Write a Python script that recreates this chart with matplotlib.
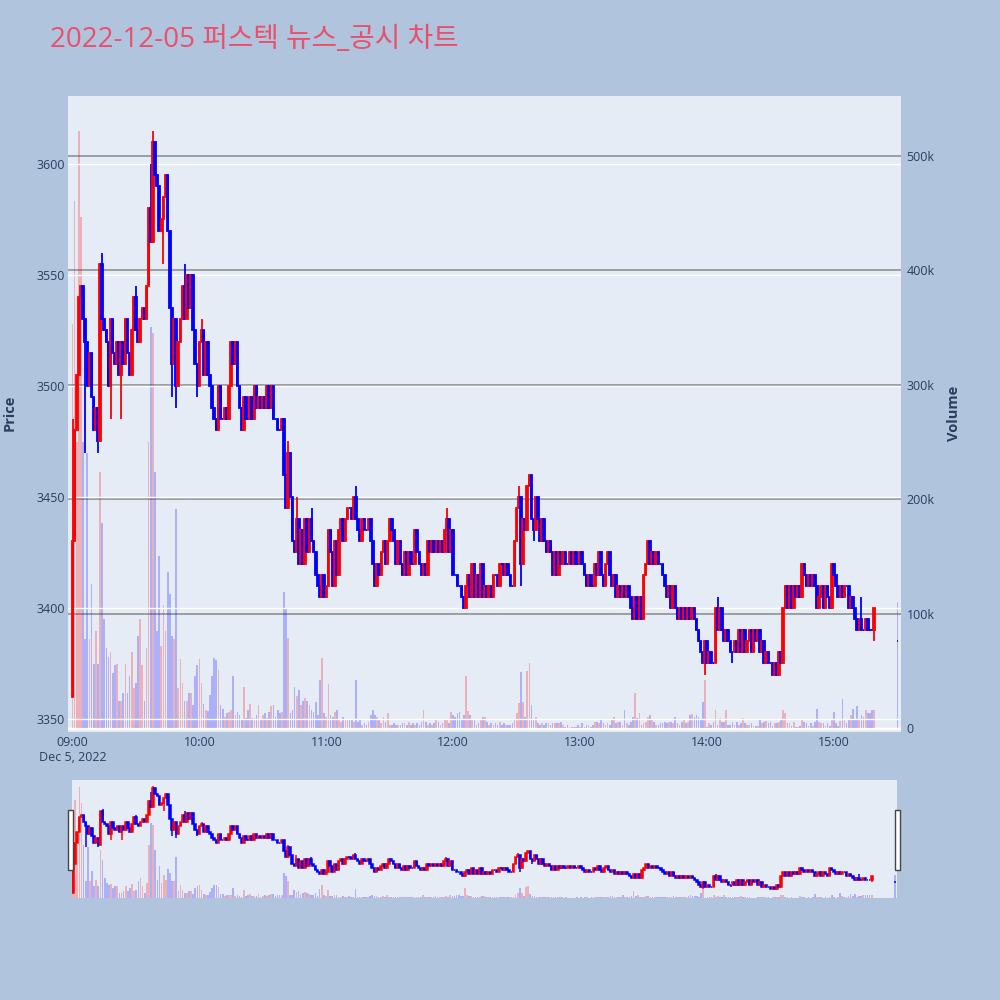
import numpy as np
import pandas as pd
import matplotlib
matplotlib.use('Agg')
import matplotlib.pyplot as plt
import matplotlib.dates as mdates
from matplotlib.patches import Rectangle

plt.rcParams['font.family'] = ['Open Sans', 'Noto Sans CJK KR', 'DejaVu Sans']

title = '2022-12-05 퍼스텍 뉴스_공시 차트'

# 1-minute closes from 09:00 (open of the first candle is first_open)
first_open = 3360
closes = [
    3430, 3480, 3505, 3540, 3545, 3530, 3520, 3500, 3515, 3495,
    3480, 3490, 3475, 3555, 3530, 3525, 3520, 3500, 3530, 3515,
    3510, 3520, 3505, 3520, 3510, 3530, 3515, 3505, 3525, 3540,
    3525, 3520, 3530, 3535, 3530, 3545, 3580, 3565, 3610, 3595,
    3590, 3570, 3575, 3585, 3595, 3570, 3535, 3510, 3530, 3500,
    3520, 3530, 3545, 3530, 3550, 3535, 3550, 3525, 3510, 3500,
    3520, 3525, 3505, 3520, 3505, 3500, 3490, 3485, 3480, 3500,
    3485, 3485, 3490, 3485, 3500, 3520, 3510, 3520, 3500, 3490,
    3480, 3495, 3485, 3485, 3495, 3485, 3500, 3490, 3495, 3490,
    3495, 3490, 3500, 3490, 3500, 3485, 3485, 3480, 3480, 3485,
    3460, 3445, 3470, 3450, 3430, 3425, 3440, 3420, 3435, 3420,
    3440, 3425, 3440, 3430, 3425, 3415, 3410, 3405, 3415, 3405,
    3410, 3435, 3425, 3410, 3430, 3415, 3435, 3440, 3430, 3440,
    3445, 3445, 3440, 3450, 3440, 3435, 3430, 3440, 3435, 3435,
    3440, 3430, 3420, 3410, 3420, 3415, 3425, 3430, 3420, 3430,
    3440, 3435, 3430, 3420, 3430, 3420, 3415, 3425, 3415, 3425,
    3420, 3420, 3435, 3425, 3420, 3415, 3420, 3415, 3430, 3425,
    3430, 3425, 3430, 3425, 3430, 3425, 3435, 3440, 3425, 3435,
    3415, 3415, 3410, 3410, 3405, 3400, 3410, 3415, 3405, 3420,
    3405, 3415, 3405, 3420, 3405, 3410, 3405, 3410, 3405, 3415,
    3415, 3410, 3420, 3420, 3415, 3420, 3415, 3410, 3410, 3430,
    3445, 3450, 3420, 3440, 3435, 3455, 3460, 3440, 3435, 3450,
    3440, 3430, 3440, 3430, 3425, 3430, 3425, 3415, 3425, 3415,
    3425, 3420, 3425, 3420, 3420, 3425, 3420, 3425, 3420, 3420,
    3425, 3420, 3415, 3410, 3415, 3410, 3410, 3420, 3415, 3425,
    3415, 3410, 3420, 3425, 3415, 3410, 3415, 3405, 3410, 3405,
    3410, 3405, 3410, 3405, 3400, 3395, 3405, 3395, 3405, 3395,
    3415, 3420, 3430, 3420, 3425, 3420, 3425, 3420, 3420, 3415,
    3410, 3405, 3410, 3400, 3410, 3400, 3395, 3400, 3395, 3400,
    3395, 3400, 3395, 3400, 3395, 3390, 3385, 3380, 3375, 3385,
    3375, 3380, 3375, 3375, 3400, 3390, 3400, 3390, 3385, 3390,
    3385, 3380, 3380, 3385, 3380, 3390, 3380, 3390, 3380, 3385,
    3390, 3380, 3390, 3385, 3390, 3380, 3385, 3375, 3380, 3375,
    3375, 3370, 3375, 3370, 3380, 3375, 3400, 3410, 3400, 3410,
    3400, 3410, 3405, 3410, 3405, 3420, 3415, 3410, 3415, 3410,
    3415, 3410, 3400, 3405, 3410, 3400, 3410, 3405, 3400, 3420,
    3415, 3410, 3405, 3410, 3405, 3410, 3410, 3400, 3405, 3400,
    3395, 3390, 3395, 3390, 3390, 3395, 3390, 3390, 3390, 3400,
]
wick_hi = {0: 3485, 14: 3560, 30: 3545, 37: 3600, 38: 3615, 53: 3555, 61: 3530,
           102: 3475, 106: 3450, 113: 3445, 134: 3455, 177: 3445, 211: 3455,
           305: 3405, 373: 3405}
wick_lo = {6: 3470, 12: 3470, 18: 3485, 23: 3485, 43: 3555, 47: 3495, 49: 3490,
           59: 3495, 212: 3410, 218: 3430, 299: 3370, 312: 3375, 379: 3385}
auction_price = 3385  # 15:30 closing auction

# volume in thousands, one per minute, then the closing auction
volume_k = [
    353, 460, 250, 521, 446, 250, 78, 240, 78, 126,
    56, 85, 56, 224, 179, 95, 70, 62, 66, 48,
    55, 56, 24, 24, 31, 56, 31, 45, 66, 35,
    39, 80, 95, 55, 24, 70, 250, 350, 345, 224,
    85, 150, 72, 107, 85, 136, 117, 80, 78, 191,
    35, 60, 39, 24, 24, 31, 31, 20, 45, 55,
    60, 39, 21, 16, 15, 29, 45, 61, 59, 51,
    20, 17, 10, 13, 14, 16, 45, 11, 14, 11,
    7, 36, 9, 16, 21, 9, 9, 11, 20, 7,
    11, 13, 9, 14, 19, 20, 10, 16, 13, 14,
    119, 105, 79, 13, 16, 36, 28, 33, 20, 24,
    26, 24, 20, 16, 14, 23, 11, 42, 61, 13,
    10, 38, 11, 10, 14, 16, 7, 5, 10, 7,
    7, 8, 7, 5, 42, 5, 7, 3, 4, 3,
    5, 11, 16, 11, 10, 7, 4, 10, 5, 13,
    3, 3, 4, 3, 3, 3, 4, 4, 3, 5,
    3, 4, 3, 4, 3, 5, 16, 5, 3, 4,
    3, 4, 8, 5, 3, 4, 7, 8, 4, 14,
    11, 10, 13, 14, 8, 11, 45, 15, 11, 8,
    7, 3, 4, 7, 10, 10, 5, 3, 4, 3,
    4, 3, 5, 3, 4, 3, 3, 3, 4, 7,
    13, 22, 49, 23, 10, 50, 57, 20, 8, 10,
    4, 3, 4, 3, 4, 4, 3, 4, 4, 4,
    4, 5, 3, 1, 3, 1, 1, 1, 1, 3,
    1, 4, 1, 3, 3, 1, 3, 5, 5, 4,
    7, 4, 3, 4, 3, 8, 10, 4, 5, 5,
    3, 16, 4, 3, 5, 10, 31, 9, 13, 3,
    4, 5, 10, 11, 7, 5, 3, 3, 4, 4,
    5, 4, 5, 5, 4, 10, 4, 3, 5, 7,
    4, 5, 11, 12, 10, 11, 10, 7, 23, 42,
    1, 4, 3, 5, 16, 3, 9, 5, 5, 16,
    3, 3, 5, 3, 5, 3, 4, 9, 4, 3,
    3, 4, 2, 2, 2, 7, 4, 5, 6, 4,
    5, 2, 4, 4, 5, 7, 16, 13, 4, 4,
    2, 5, 1, 1, 2, 8, 5, 4, 2, 4,
    2, 5, 17, 5, 4, 4, 2, 4, 2, 7,
    14, 4, 2, 6, 25, 8, 4, 7, 11, 17,
    8, 19, 7, 11, 10, 16, 13, 13, 16, 16,
]
auction_volume_k = 110

# ---- build OHLC
minutes = list(range(len(closes))) + [390]
start = pd.Timestamp('2022-12-05 09:00')
times = start + pd.to_timedelta(minutes, unit='min')
x = mdates.date2num(times.to_pydatetime())
opens = np.array([first_open] + closes[:-1] + [auction_price], dtype=float)
cls = np.array(closes + [auction_price], dtype=float)
highs = np.array([max(o, c, wick_hi.get(i, 0)) for i, (o, c) in enumerate(zip(opens, cls))])
lows = np.array([min(o, c, wick_lo.get(i, 1e9)) for i, (o, c) in enumerate(zip(opens, cls))])
vols = np.array(volume_k + [auction_volume_k], dtype=float) * 1000
colors = np.where(cls > opens, '#ff0000', '#0000ff')

one_min = 1 / 1440
t0 = mdates.date2num(start.to_pydatetime())
txt = '#2a3f5f'
bg = '#e5ecf6'


def draw(axv, axp, lw):
    axv.bar(x, vols, width=0.8 * one_min, color=colors, alpha=0.25, linewidth=0, zorder=1)
    axp.vlines(x, lows, highs, colors=colors, linewidth=lw, zorder=3)
    axp.bar(x, cls - opens, bottom=opens, width=0.75 * one_min, color=colors,
            edgecolor=colors, linewidth=lw, zorder=3)


fig = plt.figure(figsize=(10, 10), dpi=100, facecolor='#b0c4de')

ax = fig.add_axes([0.068, 0.268, 0.833, 0.636])
ax.set_facecolor(bg)
ax2 = ax.twinx()
draw(ax, ax2, 1.3)

ax.set_xlim(t0 - 2.13 * one_min, t0 + 391.7 * one_min)
ax.set_ylim(-3.5e3, 552e3)
ax2.set_ylim(3344.1, 3630.6)

ax.yaxis.tick_right()
ax.yaxis.set_label_position('right')
ax2.yaxis.tick_left()
ax2.yaxis.set_label_position('left')

vticks = [0, 100e3, 200e3, 300e3, 400e3, 500e3]
ax.set_yticks(vticks)
ax.set_yticklabels(['0', '100k', '200k', '300k', '400k', '500k'])
ax.set_axisbelow(True)
ax.grid(axis='y', color='#8a8a8a', linewidth=1.1)
ax.axhline(0, color='white', linewidth=2, zorder=0.6)

ax2.set_yticks(np.arange(3350, 3601, 50))
ax2.set_axisbelow(True)
ax2.grid(axis='y', color='white', linewidth=1.0)

hours = pd.date_range('2022-12-05 09:00', '2022-12-05 15:00', freq='h')
ax.set_xticks(mdates.date2num(hours.to_pydatetime()))
xlabels = [t.strftime('%H:%M') for t in hours]
xlabels[0] += '\nDec 5, 2022'
ax.set_xticklabels(xlabels)

ax.tick_params(axis='x', length=0, pad=3, labelsize=9, labelcolor=txt)
ax.tick_params(axis='y', length=0, pad=4, labelsize=9, labelcolor=txt)
ax2.tick_params(axis='y', length=0, pad=2, labelsize=9, labelcolor=txt)
for a in (ax, ax2):
    for s in a.spines.values():
        s.set_visible(False)

fig.text(0.05, 0.96, title, color='#e9506b', fontsize=20, ha='left', va='center')
fig.text(0.010, 0.587, 'Price', rotation=90, fontsize=10.5, fontweight='bold',
         color=txt, ha='center', va='center')
fig.text(0.954, 0.587, 'Volume', rotation=90, fontsize=10.5, fontweight='bold',
         color=txt, ha='center', va='center')

# range slider
sax = fig.add_axes([0.072, 0.102, 0.825, 0.118])
sax.set_facecolor(bg)
sax2 = sax.twinx()
draw(sax, sax2, 1.1)
sax.set_xlim(t0 - 0.5 * one_min, t0 + 391 * one_min)
sax.set_ylim(0, 554e3)
sax2.set_ylim(3348, 3629)
for a in (sax, sax2):
    a.set_xticks([])
    a.set_yticks([])
    for s in a.spines.values():
        s.set_visible(False)

for hx in (0.068, 0.895):
    fig.patches.append(Rectangle((hx, 0.130), 0.005, 0.060, transform=fig.transFigure,
                                 facecolor='white', edgecolor='#444444', linewidth=1))

fig.savefig('out.png', dpi=100, facecolor=fig.get_facecolor())
